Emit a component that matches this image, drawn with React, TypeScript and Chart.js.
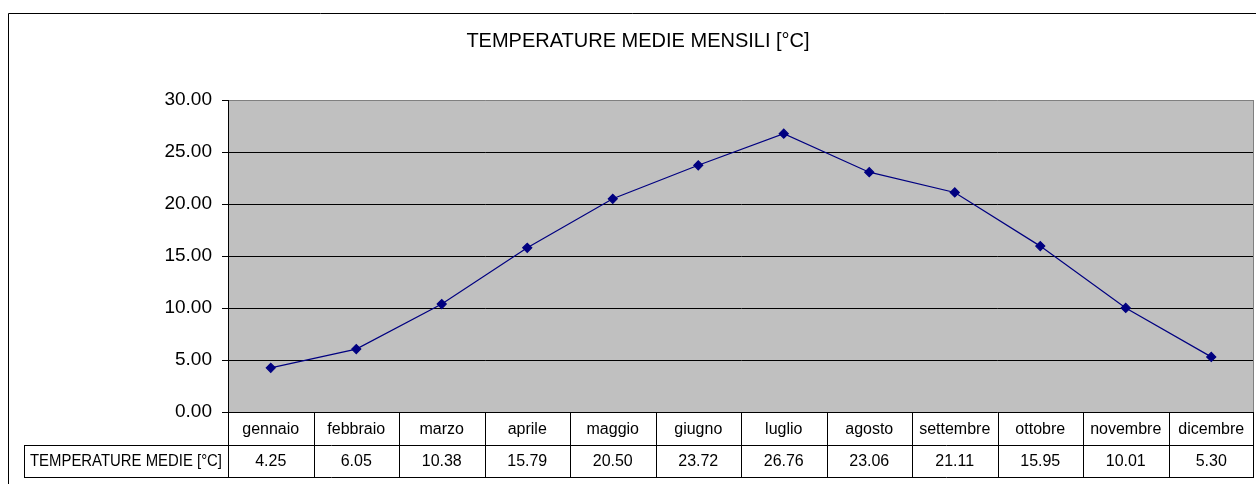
import React, { useEffect, useRef } from "react";
import { Chart, registerables } from "chart.js";

Chart.register(...registerables);

const chartTitle = "TEMPERATURE MEDIE MENSILI [°C]";
const seriesLabel = "TEMPERATURE MEDIE [°C]";
const categories = [
  "gennaio", "febbraio", "marzo", "aprile", "maggio", "giugno",
  "luglio", "agosto", "settembre", "ottobre", "novembre", "dicembre",
];
const temperatures = [4.25, 6.05, 10.38, 15.79, 20.5, 23.72, 26.76, 23.06, 21.11, 15.95, 10.01, 5.3];
const yMin = 0;
const yMax = 30;
const yStep = 5;

const FONT = "'Liberation Sans', Arial, sans-serif";

const decorPlugin = {
  id: "decor",
  beforeDraw(chart: any) {
    const { ctx, chartArea } = chart;
    const { left, top, right, bottom } = chartArea;
    ctx.save();
    ctx.fillStyle = "#ffffff";
    ctx.fillRect(0, 0, chart.width, chart.height);
    ctx.fillStyle = "#C0C0C0";
    ctx.fillRect(left, top, right - left, bottom - top);
    ctx.restore();
  },
  afterDraw(chart: any) {
    const { ctx, chartArea } = chart;
    const { left, top, right, bottom } = chartArea;
    const n = categories.length;
    const w = (right - left) / n;
    ctx.save();
    // outer chart border
    ctx.strokeStyle = "#000";
    ctx.lineWidth = 1;
    ctx.beginPath();
    ctx.moveTo(8.5, chart.height);
    ctx.lineTo(8.5, 13.5);
    ctx.lineTo(chart.width, 13.5);
    ctx.stroke();
    // plot area right border
    ctx.strokeStyle = "#808080";
    ctx.beginPath();
    ctx.moveTo(right - 0.5, top);
    ctx.lineTo(right - 0.5, bottom);
    ctx.stroke();
    // title
    ctx.fillStyle = "#000";
    ctx.font = `20px ${FONT}`;
    ctx.textAlign = "center";
    ctx.textBaseline = "middle";
    ctx.fillText(chartTitle, 638, 41);
    // data table
    const r1 = Math.round(bottom);
    const r2 = 445;
    const r3 = 477;
    const legendLeft = 24;
    ctx.strokeStyle = "#000";
    ctx.beginPath();
    for (let i = 0; i <= n; i++) {
      const x = Math.round(left + i * w) + 0.5 - (i === n ? 1 : 0);
      ctx.moveTo(x, r1);
      ctx.lineTo(x, r3);
    }
    ctx.moveTo(legendLeft + 0.5, r2);
    ctx.lineTo(legendLeft + 0.5, r3);
    ctx.moveTo(legendLeft, r2 + 0.5);
    ctx.lineTo(right, r2 + 0.5);
    ctx.moveTo(legendLeft, r3 + 0.5);
    ctx.lineTo(right, r3 + 0.5);
    ctx.stroke();
    ctx.font = `16px ${FONT}`;
    for (let i = 0; i < n; i++) {
      const cx = left + (i + 0.5) * w;
      ctx.fillText(categories[i], cx, (r1 + r2) / 2 + 1, w - 4);
      ctx.fillText(temperatures[i].toFixed(2), cx, (r2 + r3) / 2 + 1);
    }
    ctx.fillText(seriesLabel, (legendLeft + left) / 2, (r2 + r3) / 2 + 1, left - legendLeft - 12);
    ctx.restore();
  },
};

export default function App() {
  const canvasRef = useRef<HTMLCanvasElement | null>(null);

  useEffect(() => {
    const canvas = canvasRef.current;
    if (!canvas) return;
    const chart = new Chart(canvas, {
      type: "line",
      data: {
        labels: categories,
        datasets: [
          {
            label: seriesLabel,
            data: temperatures,
            borderColor: "#000080",
            backgroundColor: "#000080",
            borderWidth: 1.2,
            pointStyle: "rectRot",
            pointRadius: 4.5,
            pointBackgroundColor: "#000080",
            pointBorderColor: "#000080",
            tension: 0,
          },
        ],
      },
      options: {
        animation: false,
        responsive: false,
        devicePixelRatio: 1,
        layout: { autoPadding: false, padding: { top: 100, right: 2, bottom: 72, left: 0 } },
        plugins: {
          legend: { display: false },
          tooltip: { enabled: false },
          title: { display: false },
        },
        scales: {
          x: { type: "category", display: false, offset: true },
          y: {
            min: yMin,
            max: yMax,
            ticks: {
              stepSize: yStep,
              callback: (v: any) => Number(v).toFixed(2),
              color: "#000",
              font: { family: FONT, size: 19 },
              padding: 10,
            },
            grid: {
              color: (c: any) => (c.tick && c.tick.value === yMax ? "#808080" : "#000"),
              tickColor: "#000",
              tickLength: 6,
              lineWidth: 1,
            },
            border: { color: "#000", width: 1 },
            afterFit: (s: any) => {
              s.width = 228;
            },
          },
        },
      },
      plugins: [decorPlugin],
    });
    return () => chart.destroy();
  }, []);

  return (
    <div style={{ position: "absolute", left: 0, top: 0, width: 1256, height: 484 }}>
      <canvas ref={canvasRef} width={1256} height={484} style={{ display: "block" }} />
    </div>
  );
}
